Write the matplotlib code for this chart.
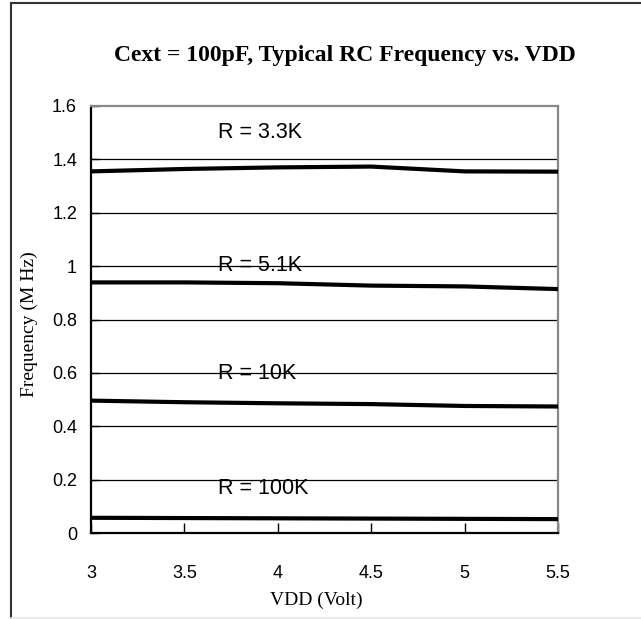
import matplotlib
matplotlib.use("Agg")
import matplotlib.pyplot as plt
from matplotlib.lines import Line2D

vdd = [3.0, 3.5, 4.0, 4.5, 5.0, 5.5]
freq_3k3 = [1.355, 1.364, 1.370, 1.373, 1.355, 1.354]
freq_5k1 = [0.939, 0.939, 0.936, 0.927, 0.924, 0.914]
freq_10k = [0.496, 0.490, 0.486, 0.483, 0.476, 0.474]
freq_100k = [0.057, 0.056, 0.055, 0.054, 0.053, 0.052]
series = [freq_3k3, freq_5k1, freq_10k, freq_100k]
labels = ["R = 3.3K", "R = 5.1K", "R = 10K", "R = 100K"]
label_y = [1.479, 0.980, 0.576, 0.145]
label_x = 3.68
xticks = [3, 3.5, 4, 4.5, 5, 5.5]
xtick_labels = ["3", "3.5", "4", "4.5", "5", "5.5"]
yticks = [0, 0.2, 0.4, 0.6, 0.8, 1.0, 1.2, 1.4, 1.6]
ytick_labels = ["0", "0.2", "0.4", "0.6", "0.8", "1", "1.2", "1.4", "1.6"]

W, H = 641, 619
fig = plt.figure(figsize=(W / 100, H / 100), dpi=100)
fig.patch.set_facecolor("white")

left, right, top, bottom = 91, 558, 106, 533
ax = fig.add_axes([left / W, 1 - bottom / H, (right - left) / W, (bottom - top) / H])

sans = "Liberation Sans"
serif = "Liberation Serif"

for yv in yticks[1:-1]:
    ax.axhline(yv, color="black", lw=0.9, zorder=1)

for s in series:
    ax.plot(vdd, s, color="black", lw=3.0, solid_capstyle="butt", zorder=3)

for lab, ly in zip(labels, label_y):
    ax.text(label_x, ly, lab, fontsize=15.5, family=sans, ha="left", va="baseline", zorder=4)

ax.set_xlim(3, 5.5)
ax.set_ylim(0, 1.6)
ax.set_xticks(xticks)
ax.set_xticklabels(xtick_labels, family=sans, fontsize=13)
ax.set_yticks(yticks)
ax.set_yticklabels(ytick_labels, family=sans, fontsize=13)
ax.tick_params(axis="x", direction="in", length=7, width=1, pad=23, color="black")
ax.tick_params(axis="y", direction="in", length=6, width=1, pad=10, color="black")

ax.spines["left"].set_color("black")
ax.spines["left"].set_linewidth(1.6)
ax.spines["bottom"].set_color("black")
ax.spines["bottom"].set_linewidth(1.6)
ax.spines["right"].set_color("#888888")
ax.spines["right"].set_linewidth(1.6)
ax.spines["top"].set_color("#888888")
ax.spines["top"].set_linewidth(1.6)

fig.text(345 / W, 1 - 56 / H, "Cext = 100pF, Typical RC Frequency vs. VDD",
         family=serif, fontweight="bold", fontsize=17, ha="center", va="center")
fig.text(316 / W, 1 - 600 / H, "VDD (Volt)", family=serif, fontsize=14,
         ha="center", va="center")
fig.text(29 / W, 1 - 324 / H, "Frequency (M Hz)", family=serif, fontsize=14,
         ha="center", va="center", rotation=90)

# outer frame
fig.add_artist(Line2D([10.5 / W, 10.5 / W], [0, 1 - 3 / H], color="#333333", lw=1.5,
                      transform=fig.transFigure))
fig.add_artist(Line2D([10.5 / W, 1], [1 - 3 / H, 1 - 3 / H], color="#333333", lw=1.5,
                      transform=fig.transFigure))
fig.add_artist(Line2D([10.5 / W, 1], [1 - 617.5 / H, 1 - 617.5 / H], color="#e6e6e6", lw=1.2,
                      transform=fig.transFigure))

fig.savefig("out.png", dpi=100, facecolor="white")
